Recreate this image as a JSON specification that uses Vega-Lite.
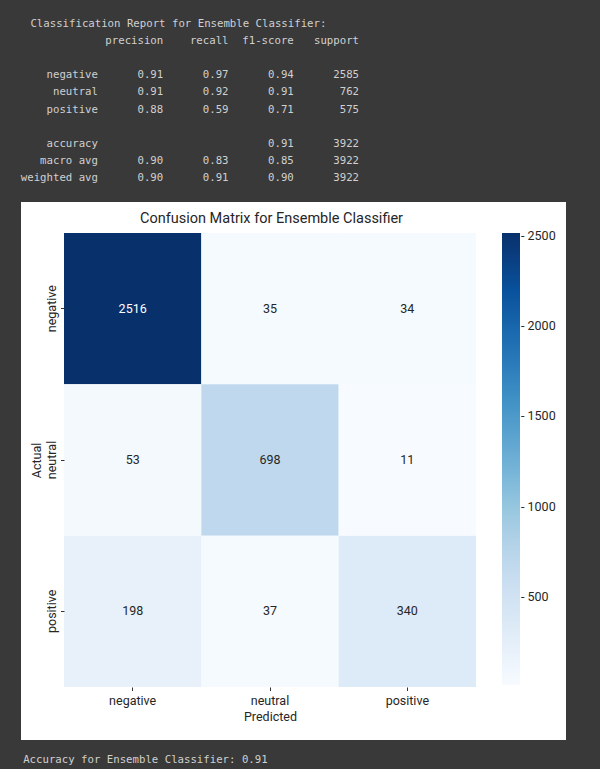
{
  "$schema": "https://vega.github.io/schema/vega-lite/v6.json",
  "background": "#393939",
  "padding": {"left": 20, "top": 0, "right": 35, "bottom": 0},
  "spacing": 0,
  "config": {"view": {"stroke": null}, "font": "Roboto"},
  "vconcat": [
    {
      "width": 545,
      "height": 202,
      "data": {"values": [
        {"line": 0, "end_col": 47, "text": "Classification Report for Ensemble Classifier:"},
        {"line": 1, "end_col": 22, "text": "precision"},
        {"line": 1, "end_col": 32, "text": "recall"},
        {"line": 1, "end_col": 42, "text": "f1-score"},
        {"line": 1, "end_col": 52, "text": "support"},
        {"line": 3, "end_col": 12, "text": "negative"},
        {"line": 3, "end_col": 22, "text": "0.91"},
        {"line": 3, "end_col": 32, "text": "0.97"},
        {"line": 3, "end_col": 42, "text": "0.94"},
        {"line": 3, "end_col": 52, "text": "2585"},
        {"line": 4, "end_col": 12, "text": "neutral"},
        {"line": 4, "end_col": 22, "text": "0.91"},
        {"line": 4, "end_col": 32, "text": "0.92"},
        {"line": 4, "end_col": 42, "text": "0.91"},
        {"line": 4, "end_col": 52, "text": "762"},
        {"line": 5, "end_col": 12, "text": "positive"},
        {"line": 5, "end_col": 22, "text": "0.88"},
        {"line": 5, "end_col": 32, "text": "0.59"},
        {"line": 5, "end_col": 42, "text": "0.71"},
        {"line": 5, "end_col": 52, "text": "575"},
        {"line": 7, "end_col": 12, "text": "accuracy"},
        {"line": 7, "end_col": 42, "text": "0.91"},
        {"line": 7, "end_col": 52, "text": "3922"},
        {"line": 8, "end_col": 12, "text": "macro avg"},
        {"line": 8, "end_col": 22, "text": "0.90"},
        {"line": 8, "end_col": 32, "text": "0.83"},
        {"line": 8, "end_col": 42, "text": "0.85"},
        {"line": 8, "end_col": 52, "text": "3922"},
        {"line": 9, "end_col": 12, "text": "weighted avg"},
        {"line": 9, "end_col": 22, "text": "0.90"},
        {"line": 9, "end_col": 32, "text": "0.91"},
        {"line": 9, "end_col": 42, "text": "0.90"},
        {"line": 9, "end_col": 52, "text": "3922"}
      ]},
      "mark": {"type": "text", "align": "right", "baseline": "middle", "font": "DejaVu Sans Mono", "fontSize": 10.7, "color": "#d0d0d0"},
      "encoding": {
        "x": {"field": "end_col", "type": "quantitative", "scale": {"domain": [0.2, 83.72], "nice": false, "zero": false}, "axis": null},
        "y": {"field": "line", "type": "quantitative", "scale": {"domain": [-1.404, 10.409], "reverse": true, "nice": false, "zero": false}, "axis": null},
        "text": {"field": "text"}
      }
    },
    {
      "width": 545,
      "height": 538,
      "view": {"fill": "white", "stroke": null},
      "title": {"text": "Confusion Matrix for Ensemble Classifier", "fontSize": 14.5, "font": "Roboto", "fontWeight": "normal", "color": "#262626", "offset": -24, "dx": -22},
      "data": {"values": [
        {"Actual": "negative", "Predicted": "negative", "count": 2516},
        {"Actual": "negative", "Predicted": "neutral", "count": 35},
        {"Actual": "negative", "Predicted": "positive", "count": 34},
        {"Actual": "neutral", "Predicted": "negative", "count": 53},
        {"Actual": "neutral", "Predicted": "neutral", "count": 698},
        {"Actual": "neutral", "Predicted": "positive", "count": 11},
        {"Actual": "positive", "Predicted": "negative", "count": 198},
        {"Actual": "positive", "Predicted": "neutral", "count": 37},
        {"Actual": "positive", "Predicted": "positive", "count": 340}
      ]},
      "encoding": {
        "x": {"field": "Predicted", "type": "nominal", "sort": ["negative", "neutral", "positive"],
              "scale": {"range": [43, 455], "paddingInner": 0, "paddingOuter": 0},
              "axis": {"title": "Predicted", "offset": -53, "domain": false, "grid": false, "ticks": true, "tickSize": 3.5, "tickColor": "#333333", "labelAngle": 0, "labelFontSize": 12.5, "labelColor": "#262626", "labelPadding": 4, "labelFont": "Roboto", "titleFont": "Roboto", "titleFontSize": 12.5, "titleFontWeight": "normal", "titleColor": "#262626", "titlePadding": 3}},
        "y": {"field": "Actual", "type": "nominal", "sort": ["negative", "neutral", "positive"],
              "scale": {"range": [31, 485], "paddingInner": 0, "paddingOuter": 0},
              "axis": {"title": "Actual", "offset": -43, "domain": false, "grid": false, "ticks": true, "tickSize": 3.5, "tickColor": "#333333", "labelAngle": -90, "labelAlign": "center", "labelBaseline": "bottom", "labelFontSize": 12.5, "labelColor": "#262626", "labelPadding": 2, "labelFont": "Roboto", "titleFont": "Roboto", "titleFontSize": 12.5, "titleFontWeight": "normal", "titleColor": "#262626", "titlePadding": 2}}
      },
      "layer": [
        {
          "mark": {"type": "rect"},
          "encoding": {
            "color": {"field": "count", "type": "quantitative",
              "scale": {"domain": [11, 324.1, 637.3, 950.4, 1263.5, 1576.6, 1889.8, 2202.9, 2516],
                        "range": ["#f7fbff", "#deebf7", "#c6dbef", "#9ecae1", "#6baed6", "#4292c6", "#2171b5", "#08519c", "#08306b"]},
              "legend": {"orient": "none", "legendX": 481, "legendY": 233, "direction": "vertical", "gradientLength": 452, "gradientThickness": 18, "title": null, "values": [500, 1000, 1500, 2000, 2500], "labelExpr": "'- ' + datum.value", "labelFontSize": 12.5, "labelColor": "#262626", "labelOffset": 1, "gradientStrokeWidth": 0, "labelFont": "Roboto"}}
          }
        },
        {
          "mark": {"type": "text", "fontSize": 12.5, "font": "Roboto"},
          "encoding": {
            "text": {"field": "count", "type": "quantitative"},
            "color": {"condition": {"test": "datum.count > 1500", "value": "#ffffff"}, "value": "#262626"}
          }
        }
      ]
    },
    {
      "width": 545,
      "height": 29,
      "data": {"values": [{"line": 0, "end_col": 38, "text": "Accuracy for Ensemble Classifier: 0.91"}]},
      "mark": {"type": "text", "align": "right", "baseline": "middle", "font": "DejaVu Sans Mono", "fontSize": 10.7, "color": "#d0d0d0"},
      "encoding": {
        "x": {"field": "end_col", "type": "quantitative", "scale": {"domain": [0.2, 83.72], "nice": false, "zero": false}, "axis": null},
        "y": {"field": "line", "type": "quantitative", "scale": {"domain": [-1.17, 0.526], "reverse": true, "nice": false, "zero": false}, "axis": null},
        "text": {"field": "text"}
      }
    }
  ]
}
